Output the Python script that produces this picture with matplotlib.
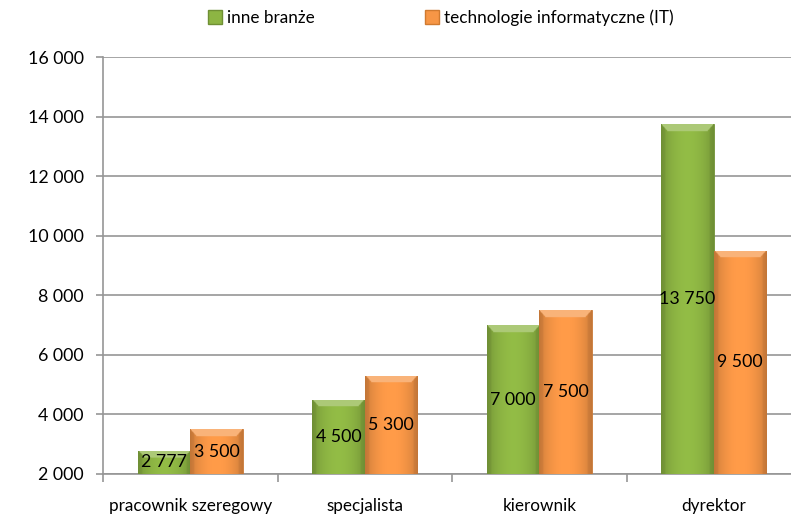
import matplotlib.pyplot as plt
import numpy as np
from matplotlib.colors import to_rgb
from matplotlib.lines import Line2D

plt.rcParams['font.family'] = ['Lato', 'DejaVu Sans']

kategorie = ["pracownik szeregowy", "specjalista", "kierownik", "dyrektor"]
inne = [2777, 4500, 7000, 13750]
it = [3500, 5300, 7500, 9500]
etykiety_inne = ["2 777", "4 500", "7 000", "13 750"]
etykiety_it = ["3 500", "5 300", "7 500", "9 500"]
serie = ["inne branże", "technologie informatyczne (IT)"]
yticks = [2000, 4000, 6000, 8000, 10000, 12000, 14000, 16000]

zielony = "#8db543"
pomaranczowy = "#f79646"
szary = "#969696"

W, H = 791, 517
fig = plt.figure(figsize=(W / 100, H / 100), dpi=100)
ax = fig.add_axes([103 / W, 1 - 474 / H, (801 - 103) / W, (474 - 57) / H])
ax.set_xlim(-0.5, 3.5)
ax.set_ylim(2000, 16000)

bw = 0.3
x = np.arange(len(kategorie))


def bevel_bar(xc, val, color):
    base = np.array(to_rgb(color))
    bottom = 2000
    b = ax.bar(xc, val - bottom, bw, bottom=bottom, color=color,
               edgecolor=base * 0.8, linewidth=0.6, zorder=3)[0]
    # gradient / bevel image
    nx = 60
    bev_units = 7 / 59.6 * 2000
    ny = max(int((val - bottom) / 20), 10)
    yy = np.linspace(val, bottom, ny)[:, None]
    xx = np.linspace(0, 1, nx)[None, :]
    fac = 1.04 - 0.2 * np.abs(2 * xx - 1) ** 2
    img = np.ones((ny, nx, 3)) * base[None, None, :] * fac[..., None]
    # top bevel
    depth = val - yy
    xw = bw * np.minimum(xx, 1 - xx)
    top = (depth < bev_units) & (xw * (bev_units / (bw * 0.12)) > depth)
    light = base + (1 - base) * 0.28
    img[np.broadcast_to(top, (ny, nx))] = light
    # side bevels
    side = (xw < bw * 0.08) & ~top
    img[np.broadcast_to(side, (ny, nx))] *= 0.94
    img = np.clip(img, 0, 1)
    im = ax.imshow(img, extent=(xc - bw / 2, xc + bw / 2, bottom, val),
                   aspect='auto', zorder=3, interpolation='bilinear')
    im.set_clip_path(b)
    return b


for i in range(len(kategorie)):
    bevel_bar(x[i] - bw / 2, inne[i], zielony)
    bevel_bar(x[i] + bw / 2, it[i], pomaranczowy)
    ax.text(x[i] - bw / 2, (inne[i] + 2000) / 2, etykiety_inne[i], ha='center',
            va='center', fontsize=12.8, zorder=5)
    ax.text(x[i] + bw / 2, (it[i] + 2000) / 2, etykiety_it[i], ha='center',
            va='center', fontsize=12.8, zorder=5)

ax.set_aspect('auto')
ax.set_xlim(-0.5, 3.5)
ax.set_ylim(2000, 16000)

ax.set_yticks(yticks)
ax.set_yticklabels([f"{v:,}".replace(",", " ") for v in yticks], fontsize=12.8)
ax.yaxis.grid(True, color=szary, linewidth=1.2, zorder=0)
ax.set_axisbelow(True)

ax.set_xticks(x)
ax.set_xticklabels(kategorie, fontsize=12.3)
ax.set_xticks(np.arange(-0.5, 4, 1), minor=True)
ax.tick_params(axis='x', which='major', length=0, pad=17)
ax.tick_params(axis='x', which='minor', length=6, color=szary, width=1.2)
ax.tick_params(axis='y', length=5, color=szary, width=1.2, pad=9)

for s in ['top', 'right']:
    ax.spines[s].set_visible(False)
for s in ['left', 'bottom']:
    ax.spines[s].set_color(szary)
    ax.spines[s].set_linewidth(1.2)

uchwyty = [Line2D([], [], marker='s', linestyle='none', markersize=9.5,
                  markerfacecolor=zielony, markeredgecolor='#6f8f34'),
           Line2D([], [], marker='s', linestyle='none', markersize=9.5,
                  markerfacecolor=pomaranczowy, markeredgecolor='#d07a30')]
fig.legend(uchwyty, serie, loc='center', bbox_to_anchor=(440 / W, 1 - 18 / H),
           ncol=2, frameon=False, fontsize=12.3, handletextpad=0.2,
           columnspacing=6.4, handlelength=1.0)

fig.savefig("out.png", dpi=100)
